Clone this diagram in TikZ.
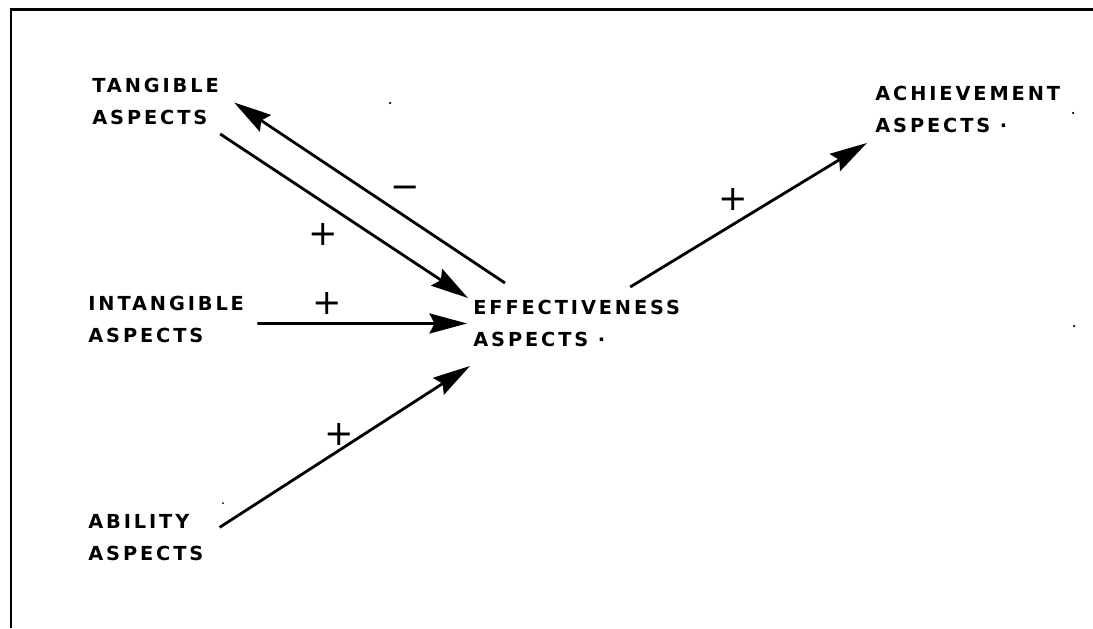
\documentclass[tikz,border=0pt]{standalone}
\usepackage{fontspec}
\newfontfamily\aspectfont[LetterSpace=15]{DejaVu Sans}
\newfontfamily\signfont{DejaVu Sans}
\usepackage{tikz}
\usetikzlibrary{arrows.meta, positioning, calc}

\begin{document}
\begin{tikzpicture}[
  lbl/.style={inner sep=0pt, anchor=north west, align=left, font=\aspectfont\bfseries\fontsize{11}{18}\selectfont},
  conn/.style={line width=1.6pt, -{Stealth[length=7.5mm, width=4mm, inset=1mm]}},
  sign/.style={inner sep=0pt, font=\signfont\fontsize{20}{20}\selectfont},
  speck/.style={fill=black, draw=none}
]
  \useasboundingbox (0,0) rectangle (21.86,-12.56);
  \draw[line width=1.3pt] (0.22,-12.56) -- (0.22,-0.19) -- (21.86,-0.19);

  \node[lbl] (tangible) at (1.84,-1.56) {TANGIBLE\\ASPECTS};
  \node[lbl] (intangible) at (1.76,-5.92) {INTANGIBLE\\ASPECTS};
  \node[lbl] (ability) at (1.76,-10.28) {ABILITY\\ASPECTS};
  \node[lbl] (effect) at (9.46,-6.00) {EFFECTIVENESS\\ASPECTS ·};
  \node[lbl] (achieve) at (17.50,-1.72) {ACHIEVEMENT\\ASPECTS ·};

  \draw[conn] ($(effect.north west)+(0.64,0.34)$) -- ($(tangible.east)+(0.30,-0.02)$);
  \draw[conn] ($(tangible.south east)+(0.02,-0.18)$) -- ($(effect.north west)+(-0.10,0.04)$);
  \draw[conn] ($(intangible.east)+(0.26,-0.08)$) -- ($(effect.west)+(-0.12,0)$);
  \draw[conn] ($(ability.east)+(0.32,0.20)$) -- ($(effect.south west)+(-0.06,-0.38)$);
  \draw[conn] ($(effect.north)+(1.07,0.26)$) -- ($(achieve.south west)+(-0.16,-0.20)$);

  \node[sign] (minus1) at (8.10,-3.84) {−};
  \node[sign] (plus1) at (6.46,-4.68) {+};
  \node[sign] (plus2) at (6.54,-6.06) {+};
  \node[sign] (plus3) at (6.78,-8.68) {+};
  \node[sign] (plus4) at (14.66,-3.98) {+};

  \fill[speck] (7.80,-2.06) circle (0.025);
  \fill[speck] (21.46,-2.26) circle (0.025);
  \fill[speck] (21.48,-6.52) circle (0.025);
  \fill[speck] (4.46,-10.06) circle (0.02);
\end{tikzpicture}
\end{document}
